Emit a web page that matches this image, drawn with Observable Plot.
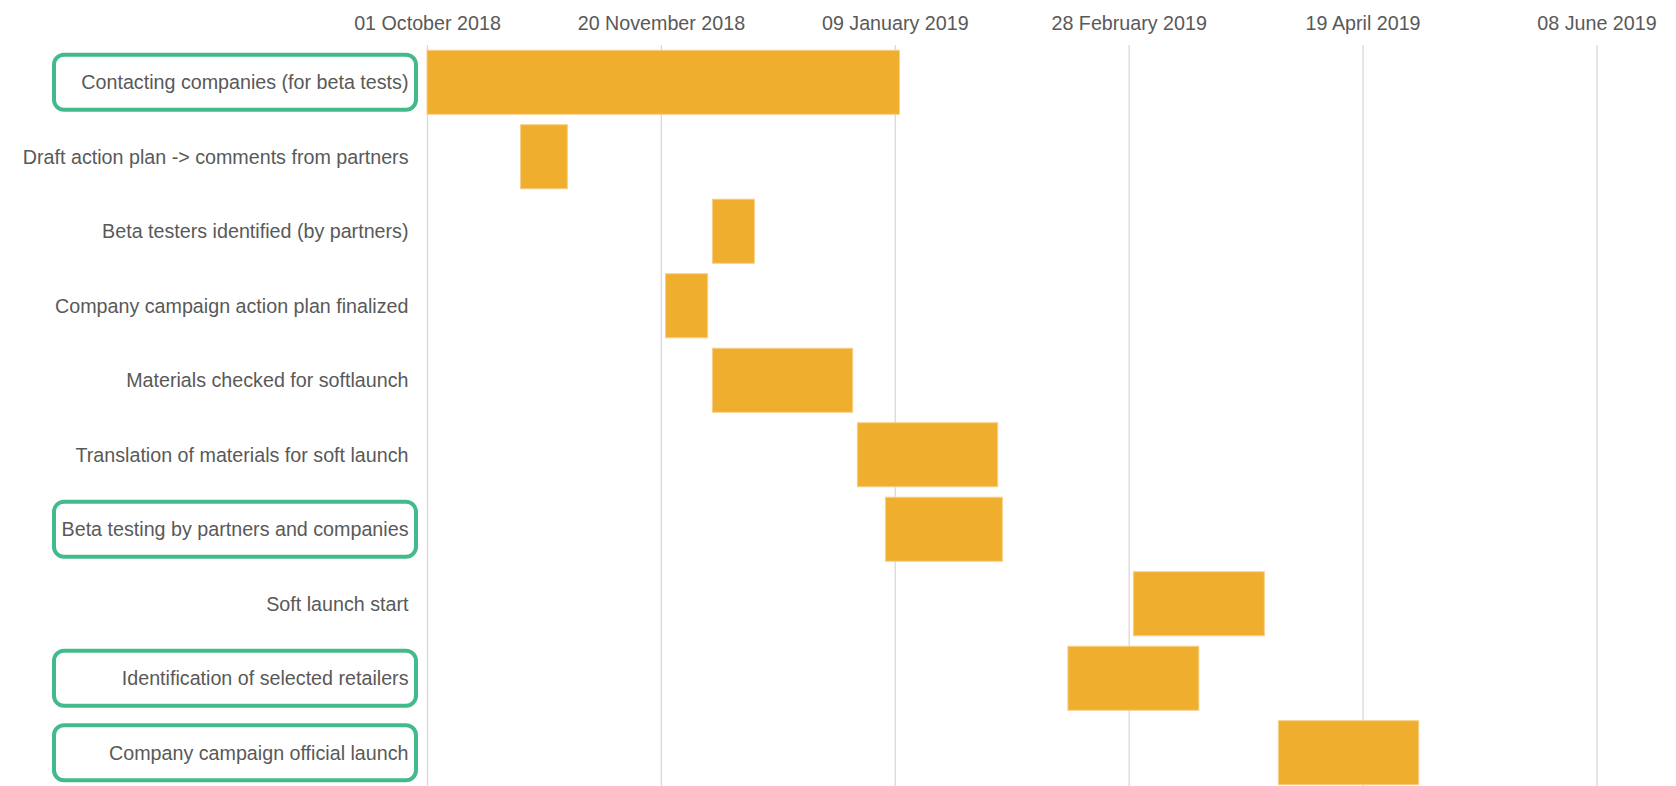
<!DOCTYPE html>
<html><head><meta charset="utf-8">
<script src="https://cdn.jsdelivr.net/npm/d3@7"></script>
<script src="https://cdn.jsdelivr.net/npm/@observablehq/plot@0.6"></script>
<style>body{margin:0;background:#fff;overflow:hidden} #chart{width:1676px;height:786px;overflow:hidden}</style>
</head><body><div id="chart"></div>
<script>
const tasks = [
  "Contacting companies (for beta tests)",
  "Draft action plan -> comments from partners",
  "Beta testers identified (by partners)",
  "Company campaign action plan finalized",
  "Materials checked for softlaunch",
  "Translation of materials for soft launch",
  "Beta testing by partners and companies",
  "Soft launch start",
  "Identification of selected retailers",
  "Company campaign official launch"
];
const starts = ["2018-10-01","2018-10-21","2018-12-01","2018-11-21","2018-12-01","2019-01-01","2019-01-07","2019-03-01","2019-02-15","2019-04-01"];
const ends   = ["2019-01-10","2018-10-31","2018-12-10","2018-11-30","2018-12-31","2019-01-31","2019-02-01","2019-03-29","2019-03-15","2019-05-01"];
const highlighted = [
  "Contacting companies (for beta tests)",
  "Beta testing by partners and companies",
  "Identification of selected retailers",
  "Company campaign official launch"
];
const tickLabels = ["2018-10-01","2018-11-20","2019-01-09","2019-02-28","2019-04-19","2019-06-08"];
const axisRange = ["2018-10-01","2019-06-25"];

const rows = tasks.map((t, i) => ({task: t, start: new Date(starts[i]), end: new Date(ends[i])}));
const tickDates = tickLabels.map(d => new Date(d));

const chart = Plot.plot({
  width: 1676, height: 790,
  marginLeft: 427, marginRight: 0, marginTop: 45, marginBottom: 0,
  style: {fontFamily: "'Liberation Sans', Arial, sans-serif", fontSize: "19.7px", color: "#595959", background: "#fff"},
  x: {type: "utc", domain: axisRange.map(d => new Date(d)), axis: "top", ticks: tickDates,
      tickFormat: d3.utcFormat("%d %B %Y"), tickSize: 0, tickPadding: 16, label: null},
  y: {domain: tasks, paddingInner: 0.14, paddingOuter: 0.07, round: false, tickSize: 0, tickPadding: 19, label: null},
  marks: [
    Plot.ruleX(tickDates, {stroke: "#d9d9d9", strokeWidth: 1.3}),
    Plot.barX(rows, {y: "task", x1: "start", x2: "end", fill: "#EFAE2D", stroke: "#F6D08A", strokeWidth: 1})
  ]
});

const ys = chart.scale("y");
const g = d3.select(chart).append("g");
for (const t of highlighted) {
  const cy = ys.apply(t) + ys.bandwidth / 2;
  g.append("rect")
    .attr("x", 54).attr("width", 427 - 10 - 2 - 53)
    .attr("y", cy - 27.5).attr("height", 55)
    .attr("rx", 10).attr("ry", 10)
    .attr("fill", "none").attr("stroke", "#43BA8C").attr("stroke-width", 4);
}
document.getElementById("chart").appendChild(chart);
</script>
</body></html>
